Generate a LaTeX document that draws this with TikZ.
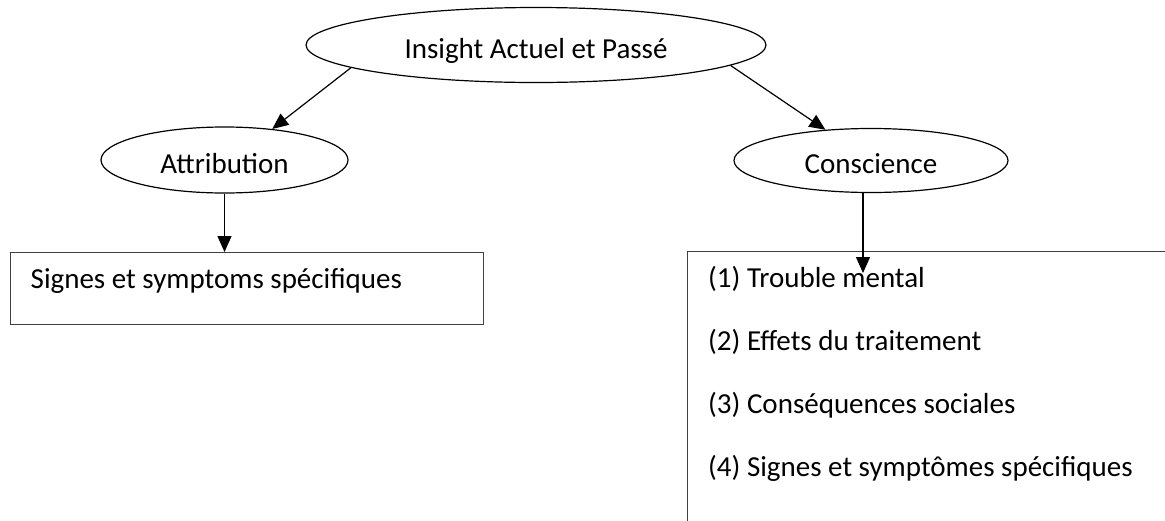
\documentclass[tikz,border=0pt]{standalone}
\usepackage{fontspec}
\setmainfont{Carlito}
\usepackage{tikz}
\usetikzlibrary{shapes.geometric,arrows.meta,positioning,calc}

\tikzset{
  oval/.style={ellipse,draw,line width=1.2pt,inner sep=0pt,text height=26pt,text depth=0pt},
  textbox/.style={rectangle,draw=black!75,line width=1.4pt,anchor=north west,inner xsep=20pt,inner ysep=0pt,
    text height=36pt,text depth=36pt,align=flush left},
  link/.style={line width=1.2pt,-{Triangle[length=16pt,width=14pt]}}
}

\begin{document}
\begin{tikzpicture}[x=1pt,y=1pt,font=\fontsize{29}{35}\selectfont]
\useasboundingbox (0,0) rectangle (1165,-520);

% ellipses
\node[oval,minimum width=460pt,minimum height=75pt] (insight) at (536,-45) {Insight Actuel et Passé};
\node[oval,minimum width=247pt,minimum height=66pt] (attribution) at (224.5,-160) {Attribution};
\node[oval,minimum width=274pt,minimum height=64pt] (conscience) at (871,-160.5) {Conscience};

% boxes
\node[textbox,text width=433pt] (signbox) at (10,-252) {Signes et symptoms spécifiques};
\begin{scope}
\clip (0,0) rectangle (1165,-520);
\node[rectangle,draw=black!75,line width=1.4pt,anchor=north west,minimum width=560pt,minimum height=320pt] (consbox) at (687,-251) {};
\end{scope}
\foreach \i/\item in {1/(1) Trouble mental, 2/(2) Effets du traitement,
    3/(3) Conséquences sociales, 4/(4) Signes et symptômes spécifiques} {
  \node[anchor=base west,inner sep=0pt] (item\i) at (708,{-287-63.3*(\i-1)}) {\item};
}

% arrows
\coordinate (constip) at (863,-273);
\draw[link] (insight.187) -- (attribution.33);
\draw[link] (insight.-6.6) -- (conscience.146);
\draw[link] (attribution.south) -- (attribution.south |- signbox.north);
\draw[link] (conscience.south -| constip) -- (constip);
\end{tikzpicture}
\end{document}
